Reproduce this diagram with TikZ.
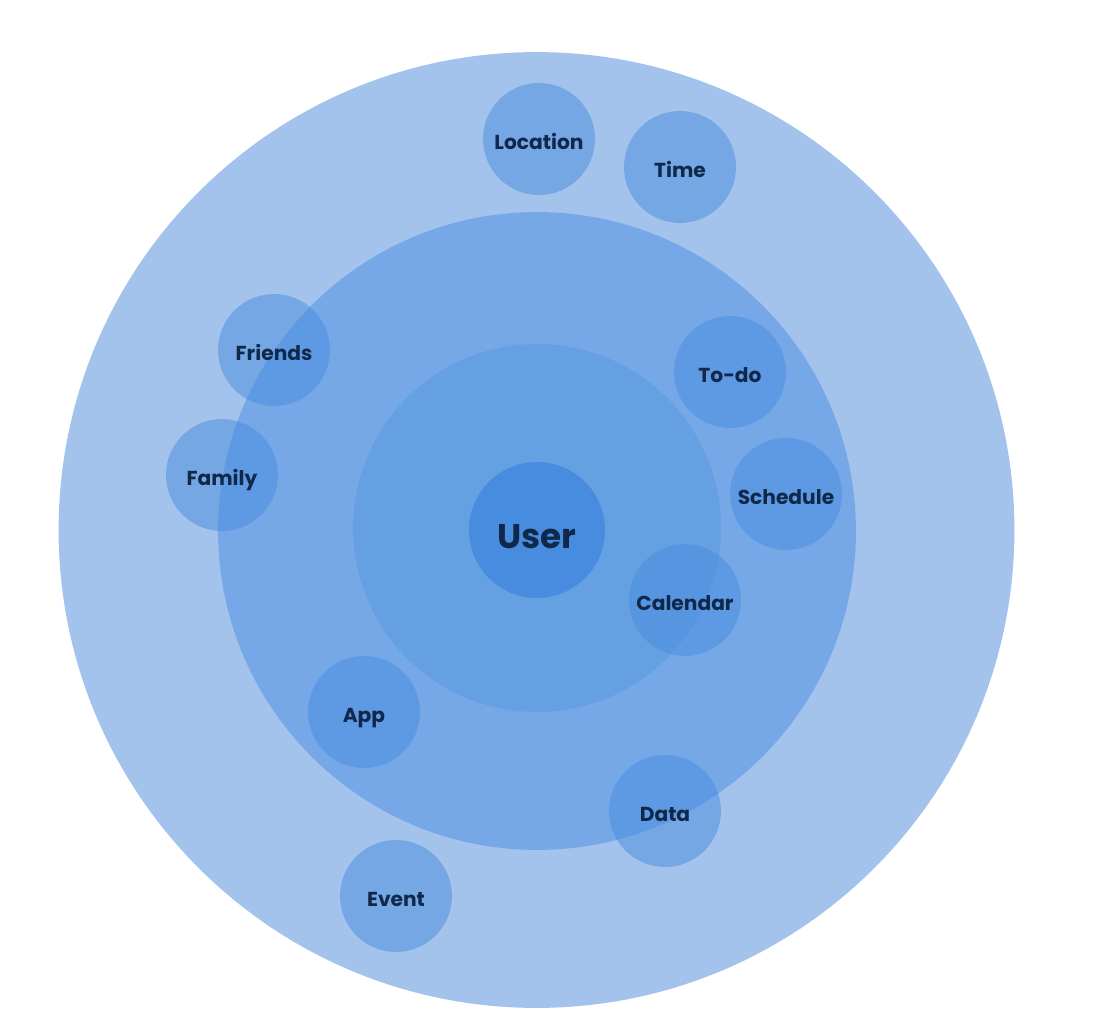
\documentclass[tikz,border=0pt]{standalone}
\usepackage{fontspec}
\setmainfont{Poppins}
\definecolor{ringA}{HTML}{A4C3EC}
\definecolor{ringB}{HTML}{76A8E8}
\definecolor{ringC}{HTML}{65A0E2}
\definecolor{core}{HTML}{488CE0}
\definecolor{bubble}{HTML}{488CE0}
\definecolor{ink}{HTML}{10284A}
\begin{document}
\begin{tikzpicture}[x=0.02cm,y=-0.02cm,
  ring/.style={circle,draw=none,inner sep=0pt},
  bub/.style={circle,draw=none,fill=bubble,fill opacity=0.5,text opacity=1,
    minimum size=2.24cm,inner sep=0pt,text=ink,text height=12.5pt,text depth=0pt,
    font=\fontsize{11.5}{13}\selectfont\bfseries}]
\useasboundingbox (0,0) rectangle (1104,1030);
\node[ring,fill=ringA,minimum size=19.12cm] (outer) at (536.5,530) {};
\node[ring,fill=ringB,minimum size=12.76cm] (middle) at (537,531) {};
\node[ring,fill=ringC,minimum size=7.36cm] (inner) at (537,528) {};
\node[ring,fill=core,minimum size=2.72cm,text=ink,text height=21.6pt,text depth=0pt,
  font=\fontsize{19.5}{22}\selectfont\bfseries] (user) at (537,530) {User};
\node[bub] (loc) at (539,139) {Location};
\node[bub] (time) at (680,167) {Time};
\node[bub] (friends) at (274,350) {Friends};
\node[bub] (family) at (222,475) {Family};
\node[bub] (todo) at (730,372) {To-do};
\node[bub] (sched) at (786,494) {Schedule};
\node[bub] (cal) at (685,600) {Calendar};
\node[bub] (app) at (364,712) {App};
\node[bub] (data) at (665,811) {Data};
\node[bub] (event) at (396,896) {Event};
\end{tikzpicture}
\end{document}
